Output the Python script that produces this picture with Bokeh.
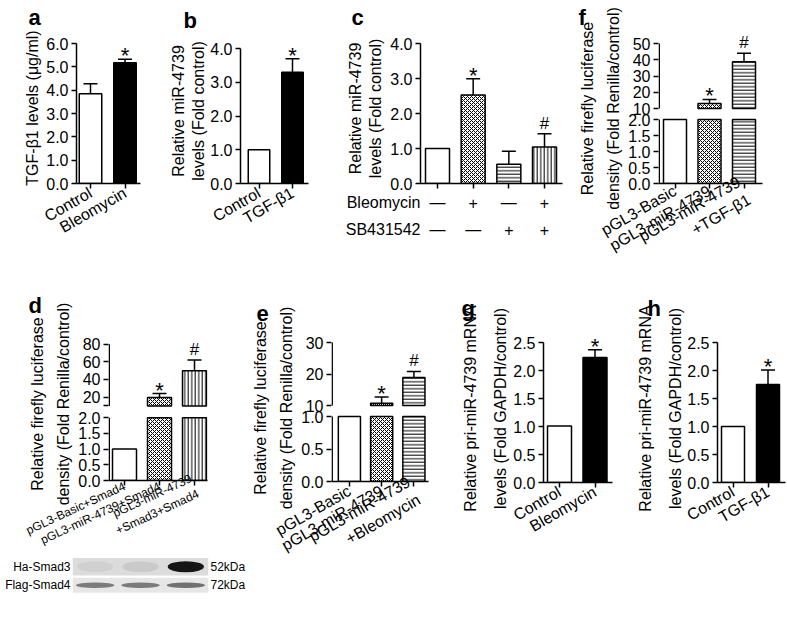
import math
from bokeh.plotting import figure
from bokeh.models import (Range1d, FixedTicker, NumeralTickFormatter, LabelSet,
                          Whisker, TeeHead, ColumnDataSource, FactorRange, CategoricalAxis)
from bokeh.layouts import row, column
from bokeh.embed import file_html
from bokeh.resources import INLINE
from bokeh.core.properties import value

FONT = "Liberation Sans"

# ---------------- data ----------------
a_groups = ["Control", "Bleomycin"]
a_values = [3.85, 5.17]
a_errors = [0.43, 0.15]
a_marks = ["", "*"]
a_fills = ["open", "solid"]
a_yticks = [0, 1, 2, 3, 4, 5, 6]

b_groups = ["Control", "TGF-β1"]
b_values = [1.0, 3.3]
b_errors = [0.0, 0.4]
b_marks = ["", "*"]
b_fills = ["open", "solid"]
b_yticks = [0, 1, 2, 3, 4]

c_headers = ["Bleomycin", "SB431542"]
c_bleomycin = ["—", "+", "—", "+"]
c_sb431542 = ["—", "—", "+", "+"]
c_values = [1.0, 2.53, 0.55, 1.04]
c_errors = [0.0, 0.46, 0.37, 0.38]
c_marks = ["", "*", "", "#"]
c_fills = ["open", "checker", "hline", "vline"]
c_yticks = [0, 1, 2, 3, 4]

f_groups = ["pGL3-Basic", "pGL3-miR-4739", "pGL3-miR-4739\n+TGF-β1"]
f_values = [2.0, 13.1, 38.7]
f_errors = [0.0, 2.5, 5.3]
f_marks = ["", "*", "#"]
f_fills = ["open", "checker", "hline"]
f_low_ticks = [0, 0.5, 1.0, 1.5, 2.0]
f_high_ticks = [10, 20, 30, 40, 50]

d_groups = ["pGL3-Basic+Smad4", "pGL3-miR-4739+Smad4", "pGL3-miR-4739\n+Smad3+Smad4"]
d_values = [1.0, 19.5, 50.0]
d_errors = [0.0, 4.5, 12.0]
d_marks = ["", "*", "#"]
d_fills = ["open", "checker", "vline"]
d_low_ticks = [0, 0.5, 1.0, 1.5, 2.0]
d_high_ticks = [10, 20, 40, 60, 80]
d_high_labels = ["", "20", "40", "60", "80"]

e_groups = ["pGL3-Basic", "pGL3-miR-4739", "pGL3-miR-4739\n+Bleomycin"]
e_values = [1.0, 10.7, 18.9]
e_errors = [0.0, 2.0, 1.9]
e_marks = ["", "*", "#"]
e_fills = ["open", "checker", "hline"]
e_low_ticks = [0, 0.5, 1.0]
e_high_ticks = [10, 20, 30]

g_groups = ["Control", "Bleomycin"]
g_values = [1.01, 2.23]
g_errors = [0.0, 0.14]
g_marks = ["", "*"]
g_fills = ["open", "solid"]
g_yticks = [0, 0.5, 1.0, 1.5, 2.0, 2.5]

h_groups = ["Control", "TGF-β1"]
h_values = [1.0, 1.75]
h_errors = [0.0, 0.26]
h_marks = ["", "*"]
h_fills = ["open", "solid"]
h_yticks = [0, 0.5, 1.0, 1.5, 2.0, 2.5]

blot_proteins = ["Ha-Smad3", "Flag-Smad4"]
blot_sizes = ["52kDa", "72kDa"]
blot_lanes = [1, 2, 3]
blot_ha_signal = [0.05, 0.08, 0.9]
blot_flag_signal = [0.55, 0.55, 0.6]

# ---------------- styles ----------------
FILL = {
    "open": ("white", "blank", 4),
    "solid": ("black", "blank", 4),
    "checker": ("white", "diagonal_cross", 4),
    "hline": ("white", "horizontal_line", 3.5),
    "vline": ("white", "vertical_line", 3.5),
}
ANG = math.radians(30)


def x_range(g):
    return (1 - (g["c1"] - g["L"]) / g["s"], 1 + (g["R"] - g["c1"]) / g["s"])


def seg_range(g, v1, p1, v2, p2):
    ppu = (p1 - p2) / (v2 - v1)
    return (v1 - (g["B"] - p1) / ppu, v2 + (p2 - g["T"]) / ppu)


def new_fig(w, h, xr, yr, borders):
    l, r, t, b = borders
    p = figure(width=w, height=h, x_range=xr, y_range=yr,
               min_border_left=l, min_border_right=r, min_border_top=t, min_border_bottom=b,
               frame_align=False, toolbar_location=None, output_backend="svg")
    p.outline_line_color = None
    p.xgrid.visible = False
    p.ygrid.visible = False
    return p


def frame_fig(g, xr, yr):
    return new_fig(g["w"], g["h"], Range1d(*xr), Range1d(*yr),
                   (g["L"] - g["cx"], g["cx"] + g["w"] - g["R"],
                    g["T"] - g["cy"], g["cy"] + g["h"] - g["B"]))


def style_axis(ax, fs="16px"):
    ax.axis_line_width = 1.5
    ax.axis_line_color = "black"
    ax.major_tick_line_width = 1.5
    ax.major_tick_line_color = "black"
    ax.major_tick_out = 5
    ax.major_tick_in = 0
    ax.minor_tick_line_color = None
    ax.major_label_text_font = FONT
    ax.major_label_text_font_size = fs
    ax.major_label_text_color = "black"
    ax.major_label_standoff = 3
    ax.axis_label_text_font = FONT
    ax.axis_label_text_font_size = "16px"
    ax.axis_label_text_font_style = "normal"
    ax.axis_label_text_color = "black"


def setup_xaxis(p, labels, angle, fs="16px"):
    ax = p.xaxis[0]
    style_axis(ax, fs)
    xs = list(range(1, len(labels) + 1))
    ax.ticker = FixedTicker(ticks=xs)
    ax.major_label_overrides = {x: t for x, t in zip(xs, labels)}
    ax.major_label_orientation = angle
    return ax


def set_letter(p, g, letter, left_px):
    # the panel letter is the plot title, kept inside the top border
    t = p.title
    t.text = letter
    t.align = "left"
    t.vertical_align = "top"
    t.offset = left_px - g["L"]
    t.standoff = max(g["T"] - g["cy"] - 30, 0)
    t.text_font = FONT
    t.text_font_size = "22px"
    t.text_font_style = "bold"
    t.text_color = "black"


def add_bars(p, xs, tops, bottom, fills, bw, rng="default"):
    src = ColumnDataSource(dict(x=xs, top=tops,
                                fill=[FILL[f][0] for f in fills],
                                hatch=[FILL[f][1] for f in fills],
                                hs=[FILL[f][2] for f in fills]))
    p.vbar(x="x", top="top", bottom=bottom, width=bw, source=src, fill_color="fill",
           hatch_pattern="hatch", hatch_scale="hs", hatch_color="black", hatch_weight=1,
           line_color="black", line_width=1.5, y_range_name=rng)


def add_errors(p, xs, values, errors, marks, rng="default", cap=14):
    sel = [i for i, e in enumerate(errors) if e > 0]
    if sel:
        src = ColumnDataSource(dict(x=[xs[i] for i in sel], lo=[values[i] for i in sel],
                                    hi=[values[i] + errors[i] for i in sel]))
        w = Whisker(base="x", lower="lo", upper="hi", source=src, line_color="black",
                    line_width=1.5, lower_head=None,
                    upper_head=TeeHead(size=cap, line_width=1.5, line_color="black"),
                    y_range_name=rng)
        p.add_layout(w)
    for sym, fs, off in (("*", "22px", -4), ("#", "17px", 5)):
        idx = [i for i, m in enumerate(marks) if m == sym]
        if idx:
            s = ColumnDataSource(dict(x=[xs[i] for i in idx],
                                      y=[values[i] + errors[i] for i in idx],
                                      t=[sym] * len(idx)))
            p.add_layout(LabelSet(x="x", y="y", text="t", source=s, text_font=value(FONT),
                                  text_font_size=value(fs), text_align="center",
                                  text_baseline="alphabetic", y_offset=off,
                                  text_color="black", y_range_name=rng))


def simple_panel(g, labels, values, errors, marks, fills, yticks, title, title_lh,
                 title_standoff, letter, letter_left, label_angle=ANG, label_fs="16px"):
    xr = x_range(g)
    yr = seg_range(g, yticks[0], g["B"], yticks[-1], g["A"])
    p = frame_fig(g, xr, yr)
    xs = list(range(1, len(values) + 1))
    add_bars(p, xs, values, 0, fills, g["bw"] / g["s"])
    add_errors(p, xs, values, errors, marks)
    yax = p.yaxis[0]
    style_axis(yax)
    yax.bounds = (yticks[0], yticks[-1])
    yax.ticker = FixedTicker(ticks=yticks)
    yax.formatter = NumeralTickFormatter(format="0.0")
    yax.axis_label = title
    yax.axis_label_text_line_height = title_lh
    yax.axis_label_standoff = title_standoff
    setup_xaxis(p, labels, label_angle, label_fs)
    set_letter(p, g, letter, letter_left)
    return p, xr


def broken_panel(g, labels, values, errors, marks, fills, low_ticks, low_px,
                 high_ticks, high_labels, high_min_px, high_max_px, title, title_standoff,
                 letter, letter_left, label_fs="16px", label_angle=ANG):
    xr = x_range(g)
    low_top = low_ticks[-1]
    high_min, high_max = high_ticks[0], high_ticks[-1]
    yr = seg_range(g, 0.0, g["B"], low_top, low_px)
    hr = seg_range(g, high_min, high_min_px, high_max, high_max_px)
    p = frame_fig(g, xr, yr)
    p.extra_y_ranges = {"high": Range1d(*hr)}
    xs = list(range(1, len(values) + 1))
    bw = g["bw"] / g["s"]
    add_bars(p, xs, [min(v, low_top) for v in values], 0, fills, bw)
    hi = [i for i, v in enumerate(values) if v > high_min]
    add_bars(p, [xs[i] for i in hi], [values[i] for i in hi], high_min,
             [fills[i] for i in hi], bw, rng="high")
    add_errors(p, xs, values, errors, marks, rng="high")
    # one y axis carries both segments: high ticks placed through the "high" range
    k = (yr[1] - yr[0]) / (hr[1] - hr[0])
    high_pos = [yr[0] + (v - hr[0]) * k for v in high_ticks]
    ax = p.yaxis[0]
    style_axis(ax)
    ax.axis_line_color = None
    ax.ticker = FixedTicker(ticks=list(low_ticks) + high_pos)
    overrides = {t: f"{t:.1f}" for t in low_ticks}
    overrides.update({pos: lab for pos, lab in zip(high_pos, high_labels)})
    ax.major_label_overrides = overrides
    ax.axis_label = title
    ax.axis_label_text_line_height = 1.56
    ax.axis_label_standoff = title_standoff
    # axis line, broken between the two segments
    xa = xr[0] + 0.75 * (xr[1] - xr[0]) / (g["R"] - g["L"])
    p.segment(x0=[xa], y0=[0], x1=[xa], y1=[low_top], line_color="black", line_width=1.5)
    p.segment(x0=[xa], y0=[high_min], x1=[xa], y1=[high_max], line_color="black",
              line_width=1.5, y_range_name="high")
    setup_xaxis(p, labels, label_angle, label_fs)
    set_letter(p, g, letter, letter_left)
    return p


# ---------------- geometry (pixels on the page) ----------------
TOP_H = 281
BOT_H = 636 - TOP_H
GA = dict(cx=0, cy=0, w=165, h=TOP_H, L=76, R=140, T=32, A=43, B=183, c1=90, s=34.5, bw=22.5)
GB = dict(cx=165, cy=0, w=170, h=TOP_H, L=240, R=308, T=38, A=48, B=183, c1=258.5, s=33.5, bw=21.5)
GC = dict(cx=335, cy=0, w=233, h=191, L=420, R=562, T=33, A=43, B=183, c1=437, s=35.67, bw=24)
GF = dict(cx=568, cy=0, w=219, h=TOP_H, L=658, R=762, T=33, B=183, c1=674.5, s=34.5, bw=23)
GD = dict(cx=0, cy=TOP_H, w=248, h=556 - TOP_H, L=108, R=207, T=327, B=483, c1=124, s=35, bw=24)
GE = dict(cx=248, cy=TOP_H, w=207, h=BOT_H, L=325, R=428, T=334, B=481, c1=344, s=34.25, bw=23.5)
GG = dict(cx=455, cy=TOP_H, w=173, h=BOT_H, L=543, R=612, T=334, A=342, B=482, c1=559, s=35.5, bw=24)
GH = dict(cx=628, cy=TOP_H, w=159, h=BOT_H, L=717, R=785, T=334, A=342, B=482, c1=732.5, s=35, bw=23)

pa, _ = simple_panel(GA, a_groups, a_values, a_errors, a_marks, a_fills, a_yticks,
                     "TGF-β1 levels (μg/ml)", 1.2, 2, "a", 28)
pb, _ = simple_panel(GB, b_groups, b_values, b_errors, b_marks, b_fills, b_yticks,
                     "Relative miR-4739\nlevels (Fold control)", 1.2, 0, "b", 183)
pc, cxr = simple_panel(GC, [""] * len(c_values), c_values, c_errors, c_marks, c_fills, c_yticks,
                       "Relative miR-4739\nlevels (Fold control)", 1.2, 3, "c", 351,
                       label_angle="horizontal")
pc.xaxis[0].major_label_text_font_size = "0px"
pc.xaxis[0].major_label_standoff = 0

# treatment table under panel c (same x scale as the bars)
CT_Y0, CT_ROW1, CT_ROW2 = GC["cy"] + GC["h"], 202, 229
ct_ppx = (cxr[1] - cxr[0]) / (GC["R"] - GC["L"])
ct_x = (cxr[0] - (GC["L"] - GC["cx"]) * ct_ppx, cxr[1] + (GC["cx"] + GC["w"] - GC["R"]) * ct_ppx)
row_px = CT_ROW2 - CT_ROW1
ct_y = (-(TOP_H - CT_ROW2) / row_px, 1 + (CT_ROW1 - CT_Y0) / row_px)
pct = new_fig(GC["w"], TOP_H - CT_Y0, Range1d(*ct_x), Range1d(*ct_y), (0, 0, 0, 0))
pct.axis.visible = False
c_xs = list(range(1, len(c_values) + 1))
pct.text(x=c_xs + c_xs, y=[1] * len(c_xs) + [0] * len(c_xs), text=c_bleomycin + c_sb431542,
         text_font=value(FONT), text_font_size="16px", text_align="center",
         text_baseline="middle", text_color="black")
pct.text(x=[cxr[0], cxr[0]], y=[1, 0], text=c_headers, text_font=value(FONT),
         text_font_size="16px", text_align="right", text_baseline="middle", text_color="black")

pf = broken_panel(GF, f_groups, f_values, f_errors, f_marks, f_fills, f_low_ticks, 119,
                  f_high_ticks, [str(v) for v in f_high_ticks], 108, 43,
                  "Relative firefly luciferase\ndensity (Fold Renilla/control)", 3, "f", 578)
pf.xaxis[0].major_label_standoff = 1
pd = broken_panel(GD, d_groups, d_values, d_errors, d_marks, d_fills, d_low_ticks, 419,
                  d_high_ticks, d_high_labels, 407, 344,
                  "Relative firefly luciferase\ndensity (Fold Renilla/control)", 3, "d", 28,
                  label_fs="12px", label_angle=math.radians(25))
pd.xaxis[0].major_label_standoff = 0
pe = broken_panel(GE, e_groups, e_values, e_errors, e_marks, e_fills, e_low_ticks, 416,
                  e_high_ticks, [str(v) for v in e_high_ticks], 405, 342,
                  "Relative firefly luciferase\ndensity (Fold Renilla/control)", 3, "e", 250)
pg, _ = simple_panel(GG, g_groups, g_values, g_errors, g_marks, g_fills, g_yticks,
                     "Relative pri-miR-4739 mRNA\nlevels (Fold GAPDH/control)", 1.8, 1, "g", 461)
ph, _ = simple_panel(GH, h_groups, h_values, h_errors, h_marks, h_fills, h_yticks,
                     "Relative pri-miR-4739 mRNA\nlevels (Fold GAPDH/control)", 1.8, 0, "h", 647)

# ---------------- western blot ----------------
GW = dict(cx=0, cy=556, w=248, h=44, L=72, R=208, T=557, B=594)
pw = new_fig(GW["w"], GW["h"], Range1d(0.5, 3.5), FactorRange(factors=list(reversed(blot_proteins))),
             (GW["L"] - GW["cx"], GW["cx"] + GW["w"] - GW["R"],
              GW["T"] - GW["cy"], GW["cy"] + GW["h"] - GW["B"]))
pw.xaxis.visible = False
pw.extra_y_ranges = {"kda": FactorRange(factors=list(reversed(blot_sizes)))}
pw.rect(x=[2, 2], y=blot_proteins, width=3, height=[0.95, 0.8],
        fill_color=["#dcdcdc", "#e6e6e6"], line_color=None)
pw.ellipse(x=blot_lanes, y=[blot_proteins[0]] * 3, width=0.8, height=0.6,
           fill_color="black", fill_alpha=blot_ha_signal, line_color=None)
pw.ellipse(x=blot_lanes, y=[blot_proteins[1]] * 3, width=0.85, height=0.3,
           fill_color="#222222", fill_alpha=blot_flag_signal, line_color=None)
style_axis(pw.yaxis[0], "12px")
kax = CategoricalAxis(y_range_name="kda")
style_axis(kax, "12px")
pw.add_layout(kax, "right")
for ax in (pw.yaxis[0], kax):
    ax.axis_line_color = None
    ax.major_tick_out = 0
    ax.major_label_standoff = 2

layout = column(row(pa, pb, column(pc, pct), pf), row(column(pd, pw), pe, pg, ph))
open("out.html", "w").write(file_html(layout, INLINE))
